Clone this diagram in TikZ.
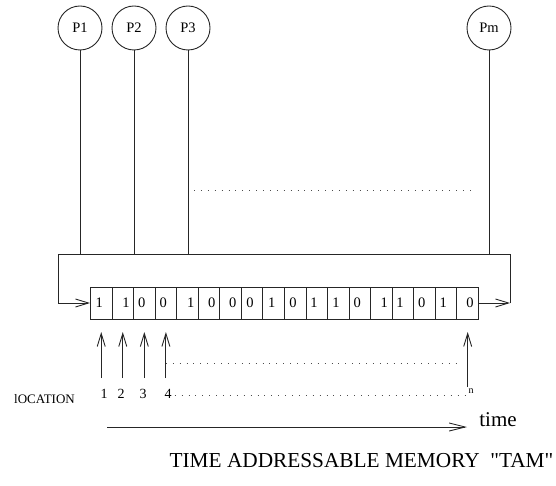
\documentclass[tikz,border=0pt]{standalone}
\usepackage{fontspec}
\setmainfont{Liberation Serif}
\newfontfamily\qfont{Liberation Serif}
\usetikzlibrary{arrows.meta}
\begin{document}
\begin{tikzpicture}[x=1pt,y=-1pt,
  ln/.style={line width=0.9pt,draw=black!85},
  proc/.style={circle,draw=black!85,line width=0.9pt,minimum size=44pt,inner sep=0pt,font=\fontsize{14.5}{14.5}\selectfont},
  cell/.style={rectangle,draw=black!85,line width=0.9pt,minimum width=21.556pt,minimum height=32pt,inner sep=0pt,anchor=west},
  bit/.style={inner sep=0pt,font=\fontsize{14.5}{14.5}\selectfont},
  lbl/.style={inner sep=0pt,font=\fontsize{14}{14}\selectfont},
  barb/.style={-{Straight Barb[length=13pt,width=8pt,line width=0.9pt]}},
  dots/.style={line width=0.9pt,draw=black!70,dash pattern=on 0.9pt off 6pt}]
\useasboundingbox (0,0) rectangle (556,486);
% processors
\node[proc] (p1) at (80,28) {P1};
\node[proc] (p2) at (134,28) {P2};
\node[proc] (p3) at (188,28) {P3};
\node[proc] (pm) at (489,28) {Pm};
% bus
\coordinate (bl) at (58,254);
\coordinate (br) at (510,254);
\coordinate (bll) at (58,303);
\coordinate (brl) at (510,303);
\draw[ln] (p1.south) -- (p1.south |- bl);
\draw[ln] (p2.south) -- (p2.south |- bl);
\draw[ln] (p3.south) -- (p3.south |- bl);
\draw[ln] (pm.south) -- (pm.south |- bl);
\draw[ln] (brl) -- (br) -- (bl) -- (bll);
% dotted between P3 and Pm
\coordinate (da) at (194,190);
\coordinate (db) at (476,190);
\draw[dots] (da) -- (db);
% cells
\foreach \i in {1,...,18}{
  \node[cell] (c\i) at ({90+(\i-1)*21.556},303) {};
}
\foreach \x/\b [count=\k] in {99.3/1,126/1,141.7/0,163.3/0,190.7/1,211.7/0,232.7/0,250/0,271.7/1,293/0,314/1,336/1,357.3/0,384.3/1,400/1,421.7/0,443.3/1,470/0}{
  \node[bit] (d\k) at (\x,303) {\b};
}
\draw[ln,barb] (bll) -- (c1.west);
\draw[ln,barb] (c18.east) -- (brl);
% location arrows
\coordinate (a1) at (c1.center |- 0,378);
\coordinate (a2) at (c2.center |- 0,378);
\coordinate (a3) at (c3.center |- 0,378);
\coordinate (a4) at (c4.center |- 0,378);
\coordinate (an) at (c18.center |- 0,387);
\draw[ln,barb] (a1) -- (c1.center |- 0,332);
\draw[ln,barb] (a2) -- (c2.center |- 0,332);
\draw[ln,barb] (a3) -- (c3.center |- 0,332);
\draw[ln,barb] (a4) -- (c4.center |- 0,332);
\draw[ln,barb] (an) -- (c18.center |- 0,332);
\coordinate (e1) at (c4.center |- 0,363);
\coordinate (e2) at (461,363);
\draw[dots] (e1) -- (e2);
% labels
\node[lbl,font=\fontsize{13}{13}\selectfont] (loc) at (44.5,399) {lOCATION};
\node[lbl] (n1) at (104,394) {1};
\node[lbl] (n2) at (121,394) {2};
\node[lbl] (n3) at (143,394) {3};
\node[lbl] (n4) at (168,394) {4};
\node[inner sep=0pt,font=\fontsize{10}{10}\selectfont] (nn) at (471,391) {n};
\draw[dots] ([xshift=3pt]n4.east |- 0,395) -- ([xshift=-1pt]nn.west |- 0,395);
% time axis
\coordinate (t1) at (107,427);
\coordinate (t2) at (467,427);
\draw[ln,-{Straight Barb[length=16pt,width=8pt,line width=0.9pt]}] (t1) -- (t2);
\node[inner sep=0pt,font=\fontsize{21}{21}\selectfont] (time) at (498,420) {time};
\node[inner sep=0pt,font=\qfont\fontsize{21.3}{21.3}\selectfont] (title) at (361.5,461) {TIME ADDRESSABLE MEMORY\ \ "TAM"};
\end{tikzpicture}
\end{document}
